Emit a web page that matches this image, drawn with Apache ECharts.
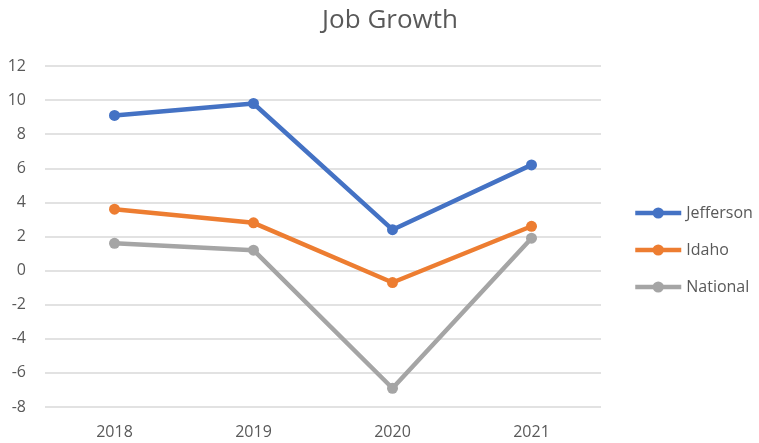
<!DOCTYPE html>
<html>
<head>
<meta charset="utf-8">
<script src="https://cdn.jsdelivr.net/npm/echarts@6/dist/echarts.min.js"></script>
<style>html,body{margin:0;padding:0;background:#fff;}#c{width:759px;height:443px;}</style>
</head>
<body>
<div id="c"></div>
<script>
const categories = ['2018', '2019', '2020', '2021'];
const jefferson = [9.1, 9.8, 2.4, 6.2];
const idaho = [3.6, 2.8, -0.7, 2.6];
const national = [1.6, 1.2, -6.9, 1.9];
const yTicks = { min: -8, max: 12, interval: 2 };

const font = 'Open Sans';
const txt = '#595959';
const chart = echarts.init(document.getElementById('c'));
function mk(name, data, color) {
  return {
    name, type: 'line', data,
    symbol: 'circle', symbolSize: 11,
    lineStyle: { width: 4.5, color },
    itemStyle: { color },
    emphasis: { disabled: true }
  };
}
chart.setOption({
  animation: false,
  title: {
    text: 'Job Growth', left: 385, top: 3, textAlign: 'center',
    textStyle: { fontFamily: font, fontSize: 26, fontWeight: 'normal', color: txt }
  },
  legend: {
    orient: 'vertical', left: 628, top: 200,
    itemWidth: 46, itemHeight: 14, itemGap: 21,
    lineStyle: { width: 4.5 },
    textStyle: { fontFamily: font, fontSize: 16, color: txt, padding: [0, 0, 0, 0] },
    data: ['Jefferson', 'Idaho', 'National']
  },
  grid: { left: 45, right: 158, top: 66, bottom: 36, containLabel: false },
  xAxis: {
    type: 'category', data: categories, boundaryGap: true,
    axisLine: { show: false }, axisTick: { show: false },
    axisLabel: { fontFamily: font, fontSize: 16, color: txt, margin: 17 }
  },
  yAxis: {
    type: 'value', min: yTicks.min, max: yTicks.max, interval: yTicks.interval,
    axisLine: { show: false }, axisTick: { show: false },
    axisLabel: { fontFamily: font, fontSize: 16, color: txt, margin: 19 },
    splitLine: { lineStyle: { color: '#D9D9D9', width: 1.5 } }
  },
  series: [
    mk('Jefferson', jefferson, '#4472C4'),
    mk('Idaho', idaho, '#ED7D31'),
    mk('National', national, '#A5A5A5')
  ]
});
</script>
</body>
</html>
